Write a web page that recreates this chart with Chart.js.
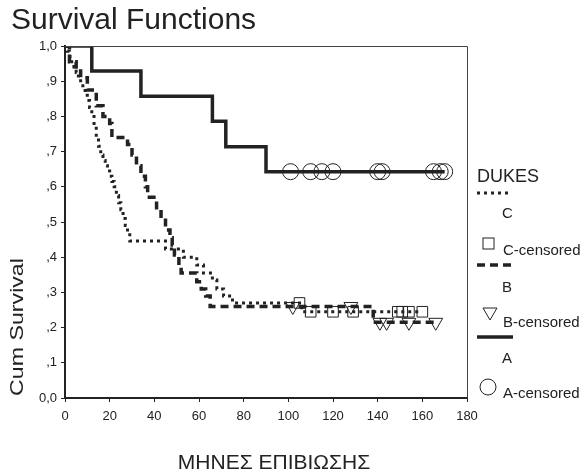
<!DOCTYPE html>
<html>
<head>
<meta charset="utf-8">
<script src="https://cdn.jsdelivr.net/npm/chart.js@4.4.0/dist/chart.umd.min.js"></script>
<style>
html, body { margin: 0; padding: 0; background: #fff; }
</style>
</head>
<body>
<canvas id="survChart" width="581" height="471"></canvas>
<script>
// Kaplan-Meier curves (months, cum survival after the step)
var monthsC = [0, 1, 2, 3, 4, 5, 6, 7, 8, 9, 10, 11, 12, 13, 14, 15, 16, 17, 18, 19, 20, 21, 22, 23, 24, 25, 26, 27, 28, 29, 45, 53, 59, 62, 66, 68, 71, 75, 106, 160];
var survC = [1, .985, .97, .955, .94, .925, .91, .895, .88, .86, .845, .825, .805, .78, .74, .715, .69, .675, .66, .645, .63, .615, .6, .575, .555, .535, .51, .49, .47, .446, .423, .4, .378, .355, .335, .31, .29, .27, .245, .245];
var censorMonthsC = [105, 110, 120, 129, 149, 151, 154, 160];
var censorSurvC = [.27, .245, .245, .245, .245, .245, .245, .245];

var monthsB = [0, 2, 5, 7, 10, 14, 17, 20, 21, 28, 30, 32, 34, 36, 37, 41, 43, 45, 47, 48, 49, 51, 52, 59, 61, 63, 65, 138, 166];
var survB = [1, .955, .94, .91, .875, .83, .8, .78, .74, .72, .69, .66, .63, .6, .57, .535, .505, .477, .455, .435, .406, .372, .355, .33, .31, .29, .26, .215, .215];
var censorMonthsB = [102, 128, 141, 144, 154, 166];
var censorSurvB = [.26, .26, .215, .215, .215, .215];

var monthsA = [0, 12, 34, 66, 72, 90, 170];
var survA = [1, .929, .857, .786, .714, .643, .643];
var censorMonthsA = [101, 110, 115, 120, 140, 142, 165, 168, 170];
var censorSurvA = [.643, .643, .643, .643, .643, .643, .643, .643, .643];

var xTicks = [0, 20, 40, 60, 80, 100, 120, 140, 160, 180];

var ink = '#222';
var font = '"Liberation Sans", Arial, sans-serif';

function pts(xs, ys) {
  return xs.map(function (x, i) { return {x: x, y: ys[i]}; });
}

// title, axis titles, frame and the SPSS style legend on the right
var extras = {
  id: 'extras',
  afterDraw: function (chart) {
    var c = chart.ctx, a = chart.chartArea;
    c.save();
    c.strokeStyle = '#444';
    c.lineWidth = 1;
    c.beginPath();
    c.moveTo(a.left, a.top + 0.5);
    c.lineTo(a.right + 0.5, a.top + 0.5);
    c.lineTo(a.right + 0.5, a.bottom);
    c.stroke();

    c.fillStyle = ink;
    c.textBaseline = 'alphabetic';
    c.textAlign = 'left';
    c.font = '30px ' + font;
    c.fillText('Survival Functions', 11, 29);

    c.textAlign = 'center';
    c.font = '21px ' + font;
    c.fillText('ΜΗΝΕΣ ΕΠΙΒΙΩΣΗΣ', 274, 469);

    // the y title is stretched along its length in the original
    c.save();
    c.translate(23, 327);
    c.rotate(-Math.PI / 2);
    c.scale(1.22, 1);
    c.font = '19px ' + font;
    c.fillText('Cum Survival', 0, 0);
    c.restore();

    // legend
    c.textAlign = 'left';
    c.font = '18px ' + font;
    c.fillText('DUKES', 477, 182);
    c.font = '15px ' + font;

    c.strokeStyle = ink;
    c.lineWidth = 3;
    c.setLineDash([3, 4]);
    c.beginPath(); c.moveTo(477, 193); c.lineTo(510, 193); c.stroke();
    c.setLineDash([8, 5]);
    c.lineWidth = 3.5;
    c.beginPath(); c.moveTo(477, 265); c.lineTo(512, 265); c.stroke();
    c.setLineDash([]);
    c.beginPath(); c.moveTo(477, 337); c.lineTo(513, 337); c.stroke();

    c.fillText('C', 502, 218);
    c.fillText('C-censored', 503, 255);
    c.fillText('B', 502, 292);
    c.fillText('B-censored', 503, 327);
    c.fillText('A', 502, 363);
    c.fillText('A-censored', 503, 398);

    c.lineWidth = 1;
    c.strokeRect(483, 238, 11, 11);
    c.beginPath();
    c.moveTo(483, 308); c.lineTo(497, 308); c.lineTo(490, 320); c.closePath();
    c.stroke();
    c.beginPath();
    c.arc(488, 387, 8, 0, Math.PI * 2);
    c.stroke();
    c.restore();
  }
};

var ctx = document.getElementById('survChart').getContext('2d');
var chart = new Chart(ctx, {
  type: 'line',
  data: {
    datasets: [{
      label: 'C',
      data: pts(monthsC, survC),
      stepped: true,
      borderColor: ink,
      borderWidth: 3,
      borderDash: [3, 4],
      pointRadius: 0
    }, {
      label: 'C-censored',
      data: pts(censorMonthsC, censorSurvC),
      showLine: false,
      pointStyle: 'rect',
      pointRadius: 7.5,
      pointBorderWidth: 1,
      pointBorderColor: ink,
      pointBackgroundColor: 'rgba(0,0,0,0)'
    }, {
      label: 'B',
      data: pts(monthsB, survB),
      stepped: true,
      borderColor: ink,
      borderWidth: 3.5,
      borderDash: [8, 5],
      pointRadius: 0
    }, {
      label: 'B-censored',
      data: pts(censorMonthsB, censorSurvB),
      showLine: false,
      pointStyle: 'triangle',
      pointRotation: 180,
      pointRadius: 8,
      pointBorderWidth: 1,
      pointBorderColor: ink,
      pointBackgroundColor: 'rgba(0,0,0,0)'
    }, {
      label: 'A',
      data: pts(monthsA, survA),
      stepped: true,
      borderColor: ink,
      borderWidth: 3.5,
      pointRadius: 0
    }, {
      label: 'A-censored',
      data: pts(censorMonthsA, censorSurvA),
      showLine: false,
      pointStyle: 'circle',
      pointRadius: 8,
      pointBorderWidth: 1,
      pointBorderColor: ink,
      pointBackgroundColor: 'rgba(0,0,0,0)'
    }]
  },
  options: {
    responsive: false,
    animation: false,
    devicePixelRatio: 1,
    layout: {padding: {left: 0, top: 46, right: 114, bottom: 0}},
    plugins: {legend: {display: false}, tooltip: {enabled: false}},
    scales: {
      x: {
        type: 'linear',
        min: 0,
        max: 180,
        afterBuildTicks: function (s) { s.ticks = xTicks.map(function (v) { return {value: v}; }); },
        afterFit: function (s) { s.height = 73; },
        grid: {drawOnChartArea: false, drawTicks: true, tickLength: 4, color: ink},
        border: {color: ink, width: 2},
        ticks: {color: ink, font: {family: font, size: 13}, padding: 7, maxRotation: 0}
      },
      y: {
        min: 0,
        max: 1,
        afterFit: function (s) { s.width = 65; },
        grid: {drawOnChartArea: false, drawTicks: true, tickLength: 4, color: ink},
        border: {color: ink, width: 2},
        ticks: {
          stepSize: 0.1,
          color: ink,
          font: {family: font, size: 13},
          padding: 4,
          callback: function (v) {
            if (v === 0) return '0,0';
            if (v === 1) return '1,0';
            return ',' + Math.round(v * 10);
          }
        }
      }
    }
  },
  plugins: [extras]
});
</script>
</body>
</html>
